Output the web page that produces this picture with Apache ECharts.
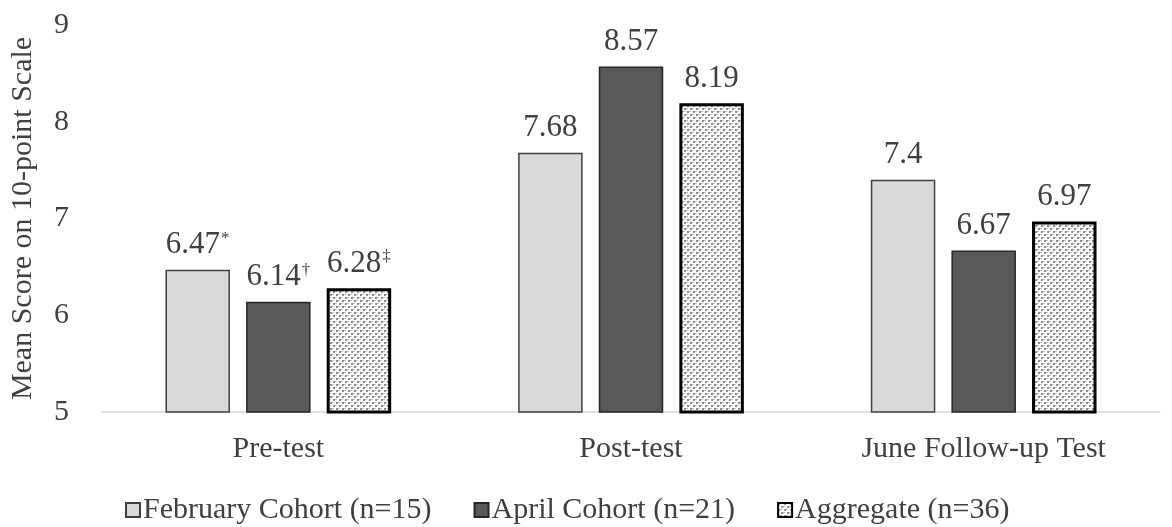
<!DOCTYPE html>
<html>
<head>
<meta charset="utf-8">
<script src="https://cdn.jsdelivr.net/npm/echarts@6/dist/echarts.min.js"></script>
<style>
  html, body { margin: 0; padding: 0; background: #fff; }
  #chart { width: 1172px; height: 527px; }
</style>
</head>
<body>
<div id="chart"></div>
<script>
// data
var categories = ['Pre-test', 'Post-test', 'June Follow-up Test'];
var seriesNames = ['February Cohort (n=15)', 'April Cohort (n=21)', 'Aggregate (n=36)'];
var febValues = [6.47, 7.68, 7.4];
var aprValues = [6.14, 8.57, 6.67];
var aggValues = [6.28, 8.19, 6.97];
var febMarks = ['*', '', ''];
var aprMarks = ['†', '', ''];
var aggMarks = ['‡', '', ''];
var yTicks = [5, 6, 7, 8, 9];

var serif = '"Liberation Serif", "DejaVu Serif", serif';

//点阵填充图案
function makePattern() {
  var c = document.createElement('canvas');
  c.width = 6; c.height = 6;
  var ctx = c.getContext('2d');
  ctx.fillStyle = '#ffffff';
  ctx.fillRect(0, 0, 6, 6);
  ctx.fillStyle = '#8c8c8c';
  ctx.fillRect(0, 0, 2, 2);
  ctx.fillRect(3, 3, 2, 2);
  ctx.fillStyle = '#bdbdbd';
  ctx.fillRect(2, 0, 1, 1);
  ctx.fillRect(0, 3, 1, 1);
  ctx.fillRect(5, 3, 1, 1);
  ctx.fillRect(3, 0, 1, 1);
  return c;
}
var pattern = { image: makePattern(), repeat: 'repeat' };

function labelFor(marks) {
  return {
    show: true,
    position: 'top',
    distance: 9,
    formatter: function (p) {
      var m = marks[p.dataIndex];
      return p.value + (m ? '{sup|' + m + '}' : '');
    },
    fontFamily: serif,
    fontSize: 31,
    color: '#404040',
    rich: {
      sup: { fontFamily: serif, fontSize: 17, color: '#404040', verticalAlign: 'top', padding: [0, 0, 14, 1] }
    }
  };
}

var myChart = echarts.init(document.getElementById('chart'));

var option = {
  animation: false,
  grid: { left: 100, right: 12, top: 25, bottom: 115 },
  legend: {
    bottom: -3,
    left: 120,
    icon: 'rect',
    itemWidth: 14,
    itemHeight: 14,
    itemGap: 42,
    textStyle: { fontFamily: serif, fontSize: 30, color: '#404040', padding: [0, 0, 0, -2] },
    data: seriesNames
  },
  xAxis: {
    type: 'category',
    data: categories,
    axisLine: { lineStyle: { color: '#d9d9d9', width: 1.5 } },
    axisTick: { show: false },
    axisLabel: { fontFamily: serif, fontSize: 30, color: '#404040', margin: 22 }
  },
  yAxis: {
    type: 'value',
    min: yTicks[0],
    max: yTicks[yTicks.length - 1],
    interval: 1,
    name: 'Mean Score on 10-point Scale',
    nameLocation: 'middle',
    nameGap: 64,
    nameTextStyle: { fontFamily: serif, fontSize: 30, color: '#404040' },
    axisLine: { show: false },
    axisTick: { show: false },
    splitLine: { show: false },
    axisLabel: { fontFamily: serif, fontSize: 30, color: '#404040', margin: 33 }
  },
  series: [
    {
      name: seriesNames[0],
      type: 'bar',
      data: febValues,
      barGap: '25%',
      barCategoryGap: '36%',
      itemStyle: { color: '#d9d9d9', borderColor: '#404040', borderWidth: 1.5 },
      label: labelFor(febMarks)
    },
    {
      name: seriesNames[1],
      type: 'bar',
      data: aprValues,
      itemStyle: { color: '#595959', borderColor: '#262626', borderWidth: 1.5 },
      label: labelFor(aprMarks)
    },
    {
      name: seriesNames[2],
      type: 'bar',
      data: aggValues,
      itemStyle: { color: pattern, borderColor: '#000000', borderWidth: 3 },
      label: labelFor(aggMarks)
    }
  ]
};
myChart.setOption(option);
</script>
</body>
</html>
